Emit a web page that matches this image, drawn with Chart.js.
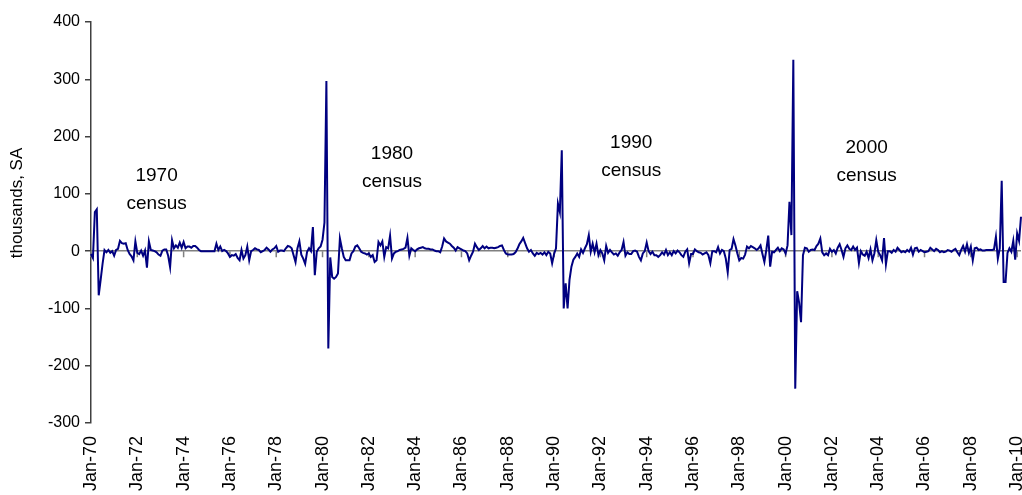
<!DOCTYPE html>
<html>
<head>
<meta charset="utf-8">
<script src="https://cdn.jsdelivr.net/npm/chart.js@4/dist/chart.umd.min.js"></script>
<style>
  html, body { margin: 0; padding: 0; background: #fff; }
</style>
</head>
<body>
<canvas id="chart" width="1022" height="495"></canvas>
<script>
// Monthly change, thousands, SA. One row per year, Jan-70 .. Mar-10.
const values1970s = [
  -5, -12, 68, 73, -77, -50, -22, 2, -2, 2, -3, 0,
  -8, 2, 4, 18, 14, 13, 14, 2, -5, -9, -16, 17,
  -3, -5, 1, -8, 1, -29, 17, 2, 1, 0, -2, -6,
  -8, 1, 3, 3, -8, -28, 19, 5, 10, 6, 15, 6,
  16, 5, 8, 8, 6, 9, 9, 6, 2, 0, 0, 0,
  0, 0, 0, 0, 0, 13, 2, 8, 0, 2, 0, -4,
  -10, -7, -8, -5, -12, -16, 2, -13, -7, 8, -16, 0,
  2, 5, 3, 2, -2, 0, 2, 6, 3, -1, 3, 5,
  9, -1, 1, 1, 0, 5, 9, 8, 5, -7, -19, 5,
  17, -6, -13, -22, -1, 5, 0, 42, -42, -1, 5, 8
];
const values1980s = [
  20, 50, 297, -170, -11, -45, -48, -45, -39, 22, 5, -10,
  -16, -16, -16, -4, 0, 8, 10, 5, -1, -3, -4, -6,
  -4, -10, -7, -19, -16, 16, 10, 17, -10, 7, 5, 27,
  -13, -4, -1, 0, 2, 3, 4, 6, 23, -8, 5, 2,
  0, 3, 5, 6, 7, 5, 4, 4, 3, 3, 1, 0,
  0, -2, 8, 22, 17, 15, 13, 9, 6, 1, 7, 5,
  3, 1, 0, -4, -16, -8, -1, 13, 7, 2, 5, 9,
  5, 8, 5, 6, 6, 5, 6, 7, 9, 10, 2, -4,
  -6, -6, -6, -5, -2, 4, 12, 17, 23, 14, 5, -1,
  2, -4, -8, -3, -5, -3, -6, -2, -7, -1, -4, -21
];
const values1990s = [
  -5, 5, 83, 68, 176, -100, -56, -100, -50, -27, -15, -10,
  -4, -10, 3, -3, 5, 12, 28, -1, 13, -2, 13, -7,
  2, -4, -16, 9, -3, 2, -2, -6, -4, -8, -2, 2,
  16, -8, -2, -5, -5, 0, 1, -1, -10, -16, -4, 0,
  15, 0, -5, -1, -7, -7, -10, -7, -2, -6, 2, -7,
  -2, -7, 0, -4, 1, -2, -7, -10, -1, 3, -21, -5,
  -5, 3, 0, -2, -3, -6, -4, -2, -7, -21, 0, 0,
  -2, 7, -4, 2, 0, -13, -37, 2, 4, 21, 10, -4,
  -16, -12, -13, -6, 8, 5, 9, 7, 5, 2, 5, 10,
  -5, -19, 2, 27, -27, -1, -2, 2, 6, 0, 5, 3
];
const values2000s = [
  -4, 10, 86, 28, 334, -240, -70, -90, -124, -7, 6, 5,
  -1, 2, 3, 2, 9, 13, 22, -2, -7, -4, -7, 4,
  -1, 2, -4, 6, 12, 2, -10, 5, 10, 4, 2, 8,
  2, 6, -21, 0, -6, -8, -1, -12, 3, -16, -4, 19,
  -1, -7, -16, 23, -23, 0, 0, -3, 2, -1, 6, 2,
  -2, 0, -2, 2, -1, 6, -6, 5, 6, -1, 2, 0,
  -2, -1, 0, 6, 3, 0, 4, 2, -2, 0, -2, -1,
  2, 1, -1, 2, 4, -2, -7, 2, 9, -1, 12, -3,
  8, -16, 5, 6, 2, 3, 1, 1, 2, 2, 2, 2,
  3, 25, -13, 5, 123, -54, -54, -3, 5, -1, 18, -15
];
const values2010 = [31, 18, 60];

const monthNames = ['Jan', 'Feb', 'Mar', 'Apr', 'May', 'Jun', 'Jul', 'Aug', 'Sep', 'Oct', 'Nov', 'Dec'];
const firstYear = 1970;
const yTicks = [-300, -200, -100, 0, 100, 200, 300, 400];
const censusLabels = ['1970', '1980', '1990', '2000'];

const values = [].concat(values1970s, values1980s, values1990s, values2000s, values2010);
const labels = values.map((_, i) => {
  const yr = (firstYear + Math.floor(i / 12)) % 100;
  return monthNames[i % 12] + '-' + String(yr).padStart(2, '0');
});

const FONT = '"Liberation Sans", Arial, sans-serif';

// where the census notes sit (month index, value at first baseline)
const notePos = [
  { i: 34, v: 122 },
  { i: 156, v: 161 },
  { i: 280, v: 180 },
  { i: 402, v: 171 }
];

const overlay = {
  id: 'overlay',
  beforeDatasetsDraw(chart) {
    const { ctx, scales: { x, y } } = chart;
    const y0 = y.getPixelForValue(0);
    ctx.save();
    ctx.strokeStyle = '#808080';
    ctx.lineWidth = 1.5;
    ctx.beginPath();
    for (let i = 0; i < labels.length; i += 24) {
      const px = x.getPixelForValue(i);
      ctx.moveTo(px, y0);
      ctx.lineTo(px, y0 + 6);
    }
    ctx.stroke();
    ctx.restore();
  },
  afterDraw(chart) {
    const { ctx, scales: { x, y } } = chart;
    ctx.save();
    ctx.fillStyle = '#000';
    ctx.textAlign = 'center';
    ctx.textBaseline = 'alphabetic';
    ctx.font = '19px ' + FONT;
    censusLabels.forEach((t, k) => {
      const px = x.getPixelForValue(notePos[k].i);
      const py = y.getPixelForValue(notePos[k].v);
      ctx.fillText(t, px, py);
      ctx.fillText('census', px, py + 28);
    });
    // y axis title
    ctx.font = '17px ' + FONT;
    ctx.translate(17, 203);
    ctx.rotate(-Math.PI / 2);
    ctx.textBaseline = 'middle';
    ctx.fillText('thousands, SA', 0, 0);
    ctx.restore();
  }
};

new Chart(document.getElementById('chart'), {
  type: 'line',
  data: {
    labels: labels,
    datasets: [{
      data: values,
      borderColor: '#000080',
      borderWidth: 2,
      pointRadius: 0,
      tension: 0,
      fill: false
    }]
  },
  options: {
    responsive: false,
    animation: false,
    layout: { padding: { top: 22, right: 1, left: 0, bottom: 0 } },
    plugins: { legend: { display: false }, tooltip: { enabled: false } },
    scales: {
      x: {
        type: 'category',
        offset: false,
        grid: { display: false, drawTicks: false },
        border: { display: false },
        afterFit: (s) => { s.height = 72; s.paddingLeft = 0; s.paddingRight = 0; },
        ticks: {
          autoSkip: false,
          minRotation: 90,
          maxRotation: 90,
          padding: 13,
          color: '#000',
          font: { family: FONT, size: 18 },
          callback: function (val, idx) {
            return idx % 24 === 0 ? this.getLabelForValue(val) : null;
          }
        }
      },
      y: {
        min: -300,
        max: 400,
        afterFit: (s) => { s.width = 91; },
        afterBuildTicks: (s) => { s.ticks = yTicks.map(v => ({ value: v })); },
        border: { display: true, color: '#404040', width: 1.5 },
        grid: {
          color: (c) => (c.tick && c.tick.value === 0 ? '#808080' : 'rgba(0,0,0,0)'),
          lineWidth: 1.5,
          tickColor: '#404040',
          tickLength: 6
        },
        ticks: {
          padding: 5,
          color: '#000',
          font: { family: FONT, size: 16 }
        }
      }
    }
  },
  plugins: [overlay]
});
</script>
</body>
</html>
